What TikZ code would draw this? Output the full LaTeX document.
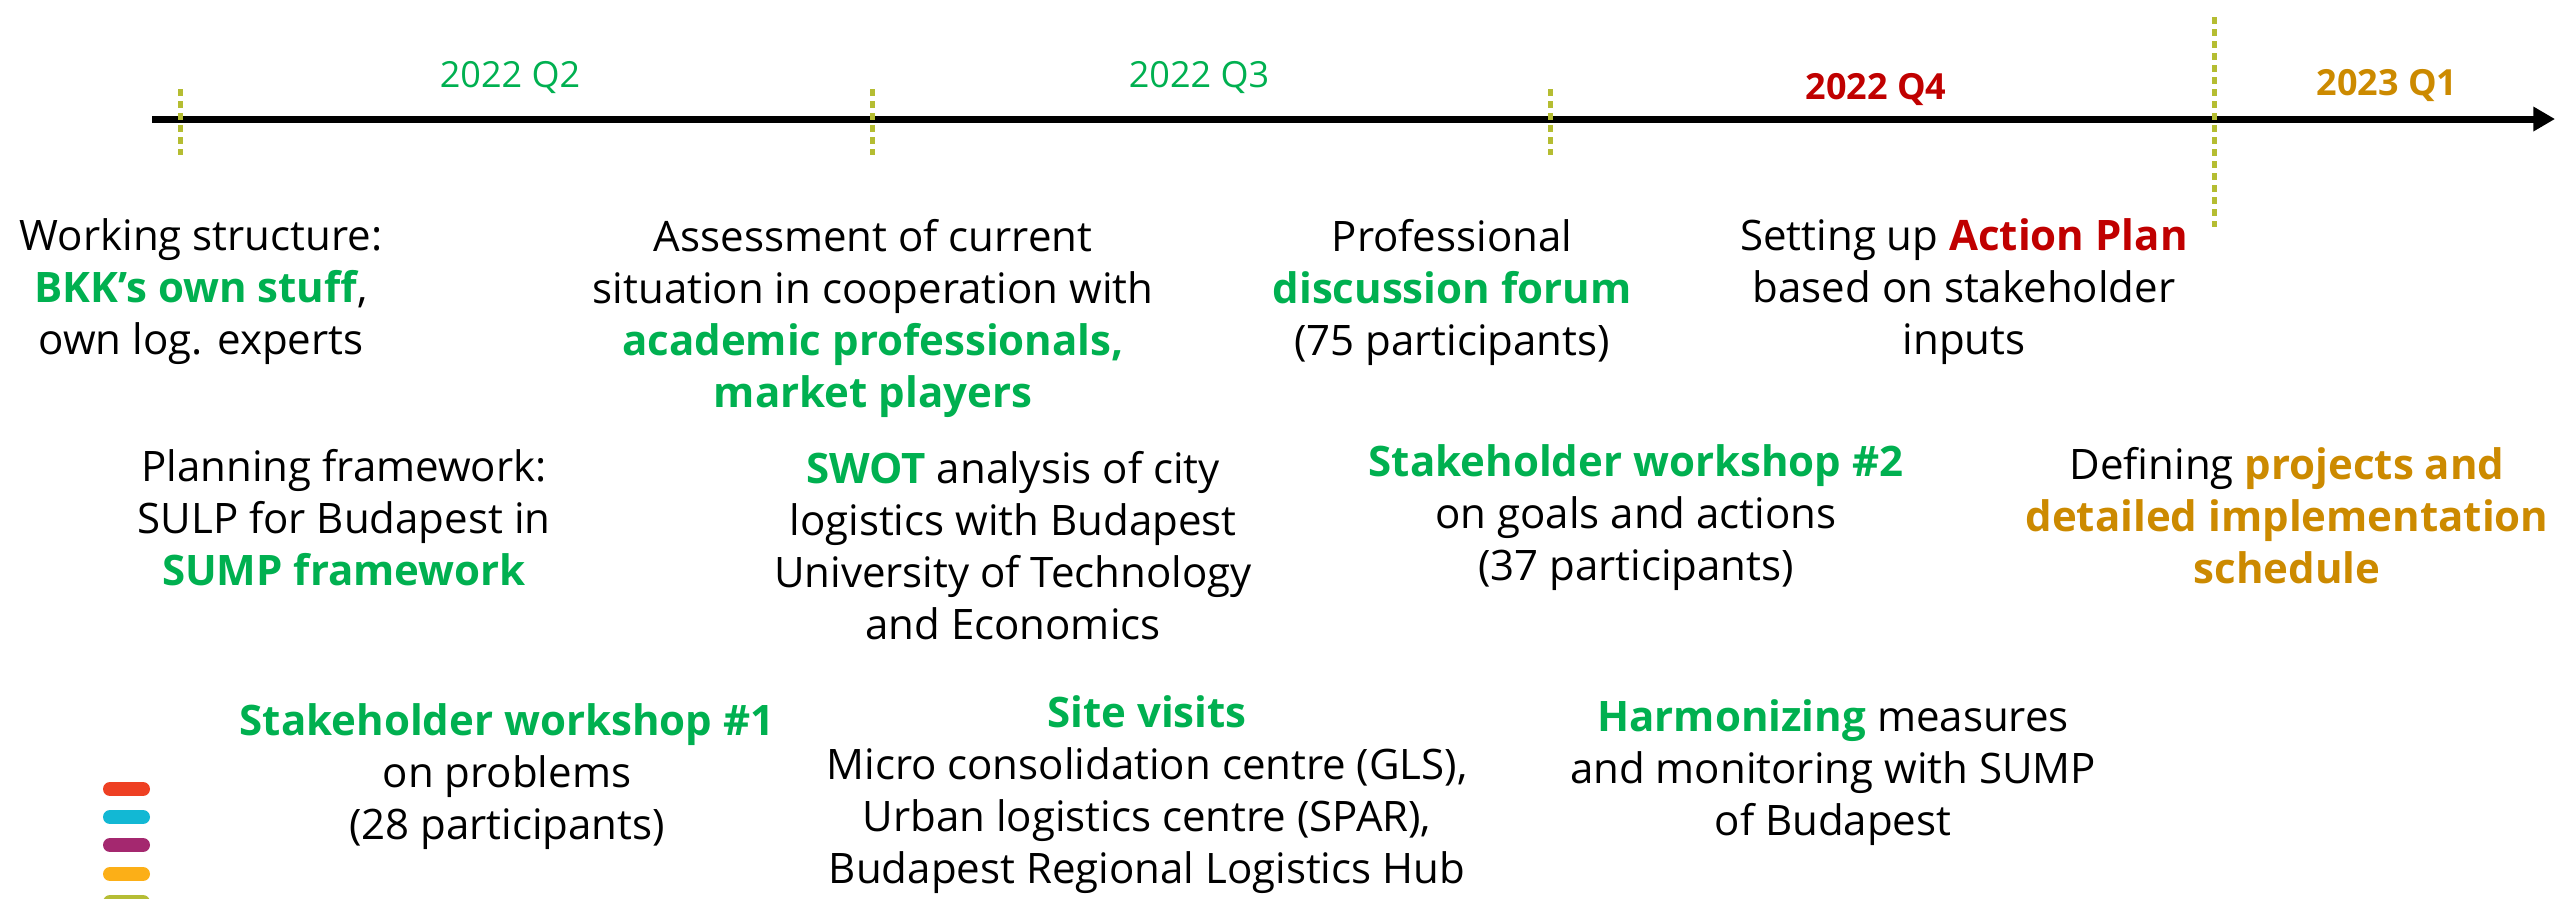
\documentclass[tikz,border=0pt]{standalone}
\usepackage{fontspec}
\setmainfont{Open Sans}
\usetikzlibrary{arrows.meta}
\definecolor{tlgreen}{HTML}{00B050}
\definecolor{tlred}{HTML}{C00000}
\definecolor{tlgold}{HTML}{CC8A00}
\definecolor{tlolive}{HTML}{B5BD32}
\definecolor{barred}{HTML}{EE4023}
\definecolor{barcyan}{HTML}{12B8D4}
\definecolor{barpurple}{HTML}{A4286F}
\definecolor{barorange}{HTML}{FCAF17}
\definecolor{barolive}{HTML}{B5BD35}
\newcommand{\hlg}[1]{\textbf{\textcolor{tlgreen}{#1}}}
\newcommand{\hlr}[1]{\textbf{\textcolor{tlred}{#1}}}
\newcommand{\hlo}[1]{\textbf{\textcolor{tlgold}{#1}}}
\begin{document}
\begin{tikzpicture}[x=0.3pt,y=-0.3pt,
  txt/.style={align=center,inner sep=0pt,font=\fontsize{12.6}{15.6}\selectfont},
  qlabel/.style={inner sep=0pt,font=\fontsize{10.8}{13}\selectfont},
  tick/.style={draw=tlolive,line width=1.5pt,dash pattern=on 2.1pt off 1.5pt},
  bar/.style={line width=4.2pt,line cap=round}]
\useasboundingbox (0,0) rectangle (2555,898);
\clip (0,0) rectangle (2555,898);
% timeline
\coordinate (tlstart) at (152,119);
\coordinate (tlend) at (2555,119);
\draw[line width=2.1pt,-{Triangle[length=6.5pt,width=7pt]}] (tlstart) -- (tlend);
% ticks
\coordinate (t1a) at (180,89);  \coordinate (t1b) at (180,155);
\coordinate (t2a) at (872,89);  \coordinate (t2b) at (872,155);
\coordinate (t3a) at (1550,89); \coordinate (t3b) at (1550,155);
\coordinate (t4a) at (2214,17); \coordinate (t4b) at (2214,227);
\draw[tick] (t1a) -- (t1b);
\draw[tick] (t2a) -- (t2b);
\draw[tick] (t3a) -- (t3b);
\draw[tick] (t4a) -- (t4b);
% quarter labels
\node[qlabel,text=tlgreen] (q2) at (510,77) {2022 Q2};
\node[qlabel,text=tlgreen] (q3) at (1199,77) {2022 Q3};
\node[qlabel,text=tlred,font=\fontsize{10.8}{13}\selectfont\bfseries] (q4) at (1876,89) {2022 Q4};
\node[qlabel,text=tlgold,font=\fontsize{10.8}{13}\selectfont\bfseries] (q1) at (2387,85) {2023 Q1};
% row 1
\node[txt] (b1) at (201,292) {Working structure:\\\hlg{BKK’s own stuff},\\own log. experts};
\node[txt] (b2) at (873,318) {Assessment of current\\situation in cooperation with\\\hlg{academic professionals,}\\\hlg{market players}};
\node[txt] (b3) at (1452,292) {Professional\\\hlg{discussion forum}\\(75 participants)};
\node[txt] (b4) at (1964,292) {Setting up \hlr{Action Plan}\\based on stakeholder\\inputs};
% row 2
\node[txt] (b5) at (344,518) {Planning framework:\\SULP for Budapest in\\\hlg{SUMP framework}};
\node[txt] (b6) at (1013,546) {\hlg{SWOT} analysis of city\\logistics with Budapest\\University of Technology\\and Economics};
\node[txt] (b7) at (1636,518) {\hlg{Stakeholder workshop \#2}\\on goals and actions\\(37 participants)};
\node[txt] (b8) at (2287,516) {Defining \hlo{projects and}\\\hlo{detailed implementation}\\\hlo{schedule}};
% row 3
\node[txt] (b9) at (507,777) {\hlg{Stakeholder workshop \#1}\\on problems\\(28 participants)};
\node[txt] (b10) at (1147,795) {\hlg{Site visits}\\Micro consolidation centre (GLS),\\Urban logistics centre (SPAR),\\Budapest Regional Logistics Hub};
\node[txt] (b11) at (1833,773) {\hlg{Harmonizing} measures\\and monitoring with SUMP\\of Budapest};
% colour bars
\draw[bar,barred] (110,789) -- (143,789);
\draw[bar,barcyan] (110,817) -- (143,817);
\draw[bar,barpurple] (110,845) -- (143,845);
\draw[bar,barorange] (110,874) -- (143,874);
\draw[bar,barolive] (110,902) -- (143,902);
\end{tikzpicture}
\end{document}
